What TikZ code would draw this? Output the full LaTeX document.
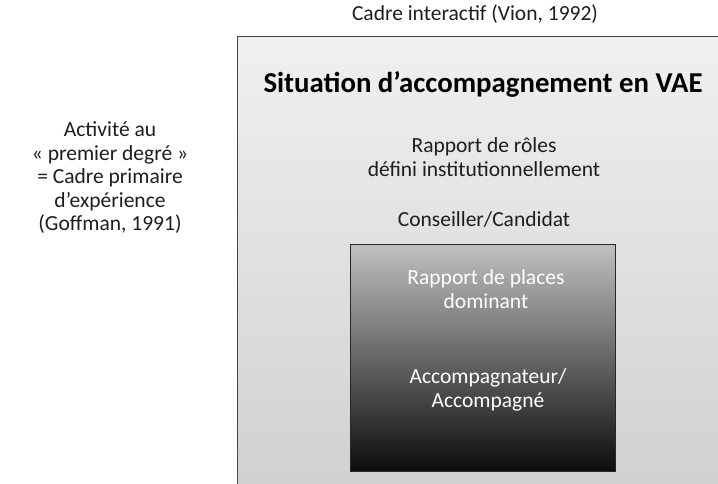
\documentclass[tikz,border=0pt]{standalone}
\usepackage{fontspec}
\setmainfont{Carlito}
\begin{document}
\begin{tikzpicture}[x=1pt,y=-1pt,
  txt/.style={font=\fontsize{21.5}{23.5}\selectfont, align=center, inner sep=0pt, text={rgb,255:red,30;green,30;blue,30}},
  inner/.style={txt, text=white}]
\useasboundingbox (0,0) rectangle (718,484);
\fill[white] (0,0) rectangle (718,484);
% outer frame
\shade[top color={rgb,255:red,240;green,240;blue,240}, bottom color={rgb,255:red,208;green,208;blue,208}]
  (237,37) rectangle (730,495);
\draw[line width=1pt, draw={rgb,255:red,70;green,70;blue,70}] (730,37) -- (237,37) -- (237,495);
\node[txt] (cadre) at (475,14) {Cadre interactif (Vion, 1992)};
\node[txt, text=black, font=\fontsize{28.8}{32}\bfseries\selectfont] (title) at (483,84) {Situation d’accompagnement en VAE};
\node[txt] (roles) at (484,157) {Rapport de rôles\\défini institutionnellement};
\node[txt] (cons) at (484,219) {Conseiller/Candidat};
% inner box
\shade[top color={rgb,255:red,192;green,192;blue,192}, bottom color={rgb,255:red,12;green,12;blue,12}]
  (350,244) rectangle (615,471);
\draw[line width=1pt, draw={rgb,255:red,40;green,40;blue,40}] (350,244) rectangle (615,471);
\node[inner] (places) at (486,289) {Rapport de places\\dominant};
\node[inner] (acc) at (488,390) {Accompagnateur/\\Accompagné};
\node[txt] (left) at (110,178) {Activité au\\« premier degré »\\= Cadre primaire\\d’expérience\\(Goffman, 1991)};
\end{tikzpicture}
\end{document}
